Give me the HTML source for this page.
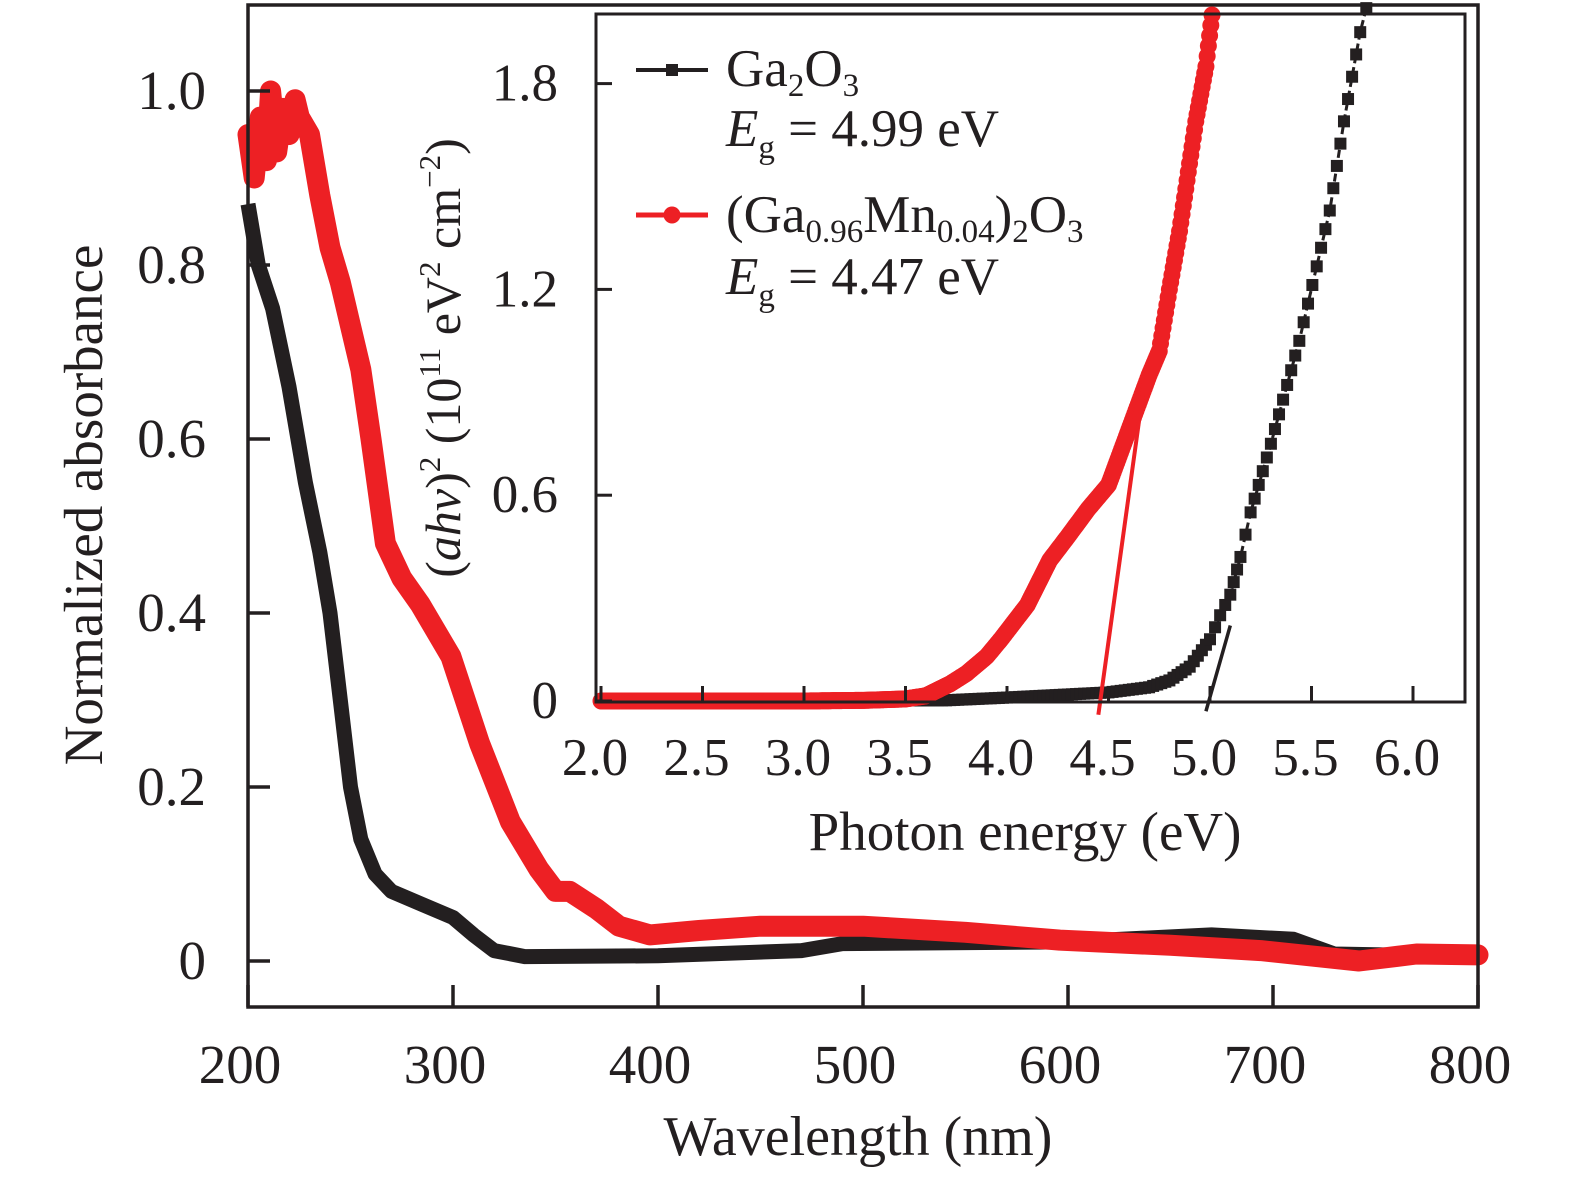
<!DOCTYPE html>
<html><head><meta charset="utf-8"><style>
body{margin:0;background:#fff}
svg{display:block;font-family:"Liberation Serif",serif}
</style></head><body>
<svg id="c" width="1575" height="1181" viewBox="0 0 1575 1181">
<g id="main"></g><g id="inset"></g>
</svg>
<script>
const mainXTicks=[200,300,400,500,600,700,800];
const mainYTicks=[0,0.2,0.4,0.6,0.8,1.0];
const mainYLabels=["0","0.2","0.4","0.6","0.8","1.0"];
const blackWl=[200,205,212,220,228,235,240,245,250,255,262,270,285,300,310,320,335,400,470,490,600,670,710,730,800];
const blackAbs=[0.87,0.8,0.75,0.66,0.55,0.47,0.4,0.3,0.2,0.14,0.1,0.08,0.065,0.05,0.03,0.012,0.005,0.006,0.012,0.02,0.022,0.03,0.025,0.008,0.005];
const redWl=[200,203,206,209,211,214,217,220,223,225,230,235,240,245,250,255,260,267,275,284,299,313,328,342,350,357,370,381,396,420,450,500,550,596,650,694,742,770,800];
const redAbs=[0.95,0.9,0.97,0.92,1.0,0.93,0.98,0.95,0.99,0.97,0.95,0.88,0.82,0.78,0.73,0.68,0.6,0.48,0.44,0.41,0.35,0.25,0.16,0.105,0.08,0.08,0.06,0.04,0.03,0.035,0.04,0.04,0.033,0.024,0.018,0.012,0.0,0.008,0.007];
const insetXTicks=[2.0,2.5,3.0,3.5,4.0,4.5,5.0,5.5,6.0];
const insetYTicks=[0,0.6,1.2,1.8];
const insetYLabels=["0","0.6","1.2","1.8"];
const gaE=[2.0,3.0,3.7,4.0,4.5,4.7,4.8,4.9,5.0,5.05,5.1,5.15,5.2,5.3,5.44,5.59,5.66,5.74,5.77];
const gaY=[0,0,0.002,0.01,0.025,0.04,0.06,0.1,0.18,0.25,0.31,0.42,0.55,0.75,1.05,1.43,1.69,1.95,2.02];
const mnE=[2.0,3.0,3.3,3.5,3.6,3.72,3.8,3.9,3.97,4.1,4.21,4.3,4.4,4.5,4.6,4.7,4.75,4.8,4.85,4.93,4.98,5.01];
const mnY=[0,0,0.002,0.006,0.015,0.05,0.08,0.13,0.18,0.28,0.41,0.48,0.56,0.63,0.79,0.95,1.02,1.2,1.37,1.69,1.85,2.0];
const gaFitE=[4.98,5.1];const gaFitY=[-0.03,0.22];
const mnFitE=[4.45,4.67];const mnFitY=[-0.04,0.9];

const NS="http://www.w3.org/2000/svg";
function el(tag,attrs,parent,txt){const e=document.createElementNS(NS,tag);for(const k in attrs)e.setAttribute(k,attrs[k]);if(txt!==undefined)e.textContent=txt;parent.appendChild(e);return e;}
const mx=v=>248+(v-200)*2.05, my=v=>961-v*870;
const ix=v=>601+(v-2)*203, iy=v=>701-v*343;
const M=document.getElementById('main'), I=document.getElementById('inset');
function pts(xs,ys,fx,fy){return xs.map((x,i)=>fx(x).toFixed(1)+','+fy(ys[i]).toFixed(1)).join(' ');}

let b=el('polyline',{points:pts(blackWl,blackAbs,mx,my),fill:'none',stroke:'#231f20','stroke-width':15,'stroke-linejoin':'round'},M);


let r=el('polyline',{points:pts(redWl,redAbs,mx,my),fill:'none',stroke:'#ed2024','stroke-width':21,'stroke-linejoin':'round','stroke-linecap':'round'},M);


let f=el('rect',{x:248,y:5,width:1230,height:1002,fill:'none',stroke:'#231f20','stroke-width':3.5},M);


mainXTicks.forEach(v=>{el('line',{x1:mx(v),x2:mx(v),y1:1007,y2:985,stroke:'#231f20','stroke-width':3.5},M);
 let t=el('text',{x:mx(v)-8,y:1083,'font-size':55,'text-anchor':'middle',fill:'#231f20'},M,String(v));
 
 });
mainYTicks.forEach((v,i)=>{el('line',{x1:248,x2:270,y1:my(v),y2:my(v),stroke:'#231f20','stroke-width':3.5},M);
 let t=el('text',{x:206,y:my(v)+18,'font-size':55,'text-anchor':'end',fill:'#231f20'},M,mainYLabels[i]);
 
 });
let xt=el('text',{x:858,y:1155,'font-size':56,'text-anchor':'middle',fill:'#231f20'},M,'Wavelength (nm)');


let yt=el('text',{x:0,y:0,'font-size':55,'text-anchor':'middle',fill:'#231f20',transform:'translate(102,505) rotate(-90)'},M,'Normalized absorbance');



let bg=el('rect',{x:596,y:14,width:869,height:688,fill:'#fff'},I);


function densify(xs,ys,step){const o=[];for(let i=0;i<xs.length-1;i++){const n=Math.max(1,Math.round((xs[i+1]-xs[i])/step));for(let k=0;k<n;k++){const t=k/n;o.push([xs[i]+(xs[i+1]-xs[i])*t,ys[i]+(ys[i+1]-ys[i])*t]);}}o.push([xs[xs.length-1],ys[ys.length-1]]);return o;}
let gl=el('polyline',{points:pts(gaE,gaY,ix,iy),fill:'none',stroke:'#231f20','stroke-width':3,'stroke-dasharray':'8,4'},I);


densify(gaE,gaY,0.02).forEach(p=>{if(p[1]>2.02)return;let s=el('rect',{x:ix(p[0])-6,y:iy(p[1])-6,width:12,height:12,fill:'#231f20'},I);
 
 });
densify(mnE,mnY,0.006).forEach(p=>{let c=el('circle',{cx:ix(p[0]),cy:iy(p[1]),r:8.5,fill:'#ed2024'},I);
 
 });
let mf=el('line',{x1:ix(mnFitE[0]),y1:iy(mnFitY[0]),x2:ix(mnFitE[1]),y2:iy(mnFitY[1]),stroke:'#ed2024','stroke-width':4},I);


let gf=el('line',{x1:ix(gaFitE[0]),y1:iy(gaFitY[0]),x2:ix(gaFitE[1]),y2:iy(gaFitY[1]),stroke:'#231f20','stroke-width':3.5},I);


let ifr=el('rect',{x:596,y:14,width:869,height:688,fill:'none',stroke:'#231f20','stroke-width':3},I);


insetXTicks.forEach(v=>{el('line',{x1:ix(v),x2:ix(v),y1:702,y2:686,stroke:'#231f20','stroke-width':3},I);
 let t=el('text',{x:ix(v)-6,y:775,'font-size':53,'text-anchor':'middle',fill:'#231f20'},I,v.toFixed(1));
 
 });
insetYTicks.forEach((v,i)=>{el('line',{x1:596,x2:612,y1:iy(v),y2:iy(v),stroke:'#231f20','stroke-width':3},I);
 let t=el('text',{x:558,y:iy(v)+17,'font-size':53,'text-anchor':'end',fill:'#231f20'},I,insetYLabels[i]);
 
 });
</script>
<script>
const svg=document.getElementById('c');
svg.insertAdjacentHTML('beforeend',`
<text x="1025" y="850" font-size="55" text-anchor="middle" fill="#231f20">Photon energy (eV)</text>
<text transform="translate(460,358) rotate(-90)" font-size="50" text-anchor="middle" fill="#231f20">(<tspan font-style="italic">ahv</tspan>)<tspan font-size="31" dy="-20">2</tspan><tspan dy="20"> (10</tspan><tspan font-size="31" dy="-20">11</tspan><tspan dy="20"> eV</tspan><tspan font-size="31" dy="-20">2</tspan><tspan dy="20"> cm</tspan><tspan font-size="31" dy="-20">−2</tspan><tspan dy="20">)</tspan></text>
<g fill="#231f20" font-size="53">
<line x1="636" y1="70" x2="708" y2="70" stroke="#231f20" stroke-width="4"/>
<rect x="666" y="64" width="12" height="12" fill="#231f20"/>
<text x="726" y="86">Ga<tspan font-size="33" dy="10">2</tspan><tspan dy="-10">O</tspan><tspan font-size="33" dy="10">3</tspan></text>
<text x="726" y="146"><tspan font-style="italic">E</tspan><tspan font-size="33" dy="12">g</tspan><tspan dy="-12"> = 4.99 eV</tspan></text>
<line x1="636" y1="215" x2="708" y2="215" stroke="#ed2024" stroke-width="5"/>
<circle cx="672" cy="215" r="8.5" fill="#ed2024"/>
<text x="726" y="232">(Ga<tspan font-size="33" dy="10">0.96</tspan><tspan dy="-10">Mn</tspan><tspan font-size="33" dy="10">0.04</tspan><tspan dy="-10">)</tspan><tspan font-size="33" dy="10">2</tspan><tspan dy="-10">O</tspan><tspan font-size="33" dy="10">3</tspan></text>
<text x="726" y="294"><tspan font-style="italic">E</tspan><tspan font-size="33" dy="12">g</tspan><tspan dy="-12"> = 4.47 eV</tspan></text>
</g>`);
</script>
</body></html>
